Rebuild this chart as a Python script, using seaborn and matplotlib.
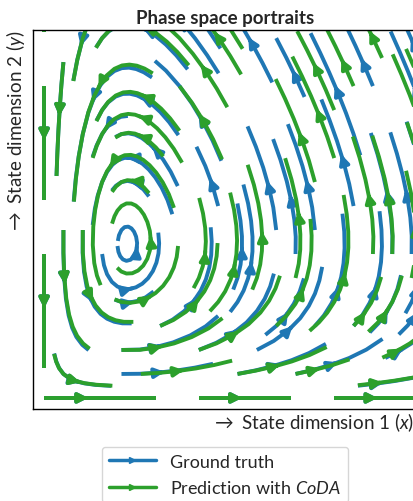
import numpy as np
import matplotlib
matplotlib.use("Agg")
import matplotlib.pyplot as plt
import seaborn as sns
from matplotlib.lines import Line2D

# Lotka-Volterra parameters (alpha, beta, gamma, delta)
true_params = [0.5, 0.52, 0.45, 0.5]
pred_params = [0.52, 0.53, 0.45, 0.49]

x_range = [0.0, 4.2]
y_range = [0.0, 3.0]
legend_labels = ["Ground truth", "Prediction with $\\mathit{CoDA}$"]
colors = ["#1f77b4", "#2ca02c"]


def lv_field(params, X, Y):
    a, b, g, d = params
    U = a * X - b * X * Y
    V = d * X * Y - g * Y
    return U, V


sns.set_theme(style="white")
plt.rcParams["font.family"] = ["Lato", "DejaVu Sans"]
plt.rcParams["mathtext.fontset"] = "custom"
plt.rcParams["mathtext.rm"] = "Lato"
plt.rcParams["mathtext.it"] = "Lato:italic"
plt.rcParams["mathtext.bf"] = "Lato:bold"

xs = np.linspace(x_range[0], x_range[1], 60)
ys = np.linspace(y_range[0], y_range[1], 60)
X, Y = np.meshgrid(xs, ys)

fig = plt.figure(figsize=(4.13, 5.02), dpi=100)
ax = fig.add_axes([0.08, 0.183, 0.93, 0.755])

for params, c in zip([true_params, pred_params], colors):
    U, V = lv_field(params, X, Y)
    ax.streamplot(X, Y, U, V, color=c, linewidth=2.8, arrowsize=1.4,
                  density=0.72, maxlength=0.55)

ax.set_xlim(-0.12, 4.05)
ax.set_ylim(-0.07, 2.3)
ax.set_xticks([])
ax.set_yticks([])
for s in ax.spines.values():
    s.set_color("black")
    s.set_linewidth(1.0)

ax.set_title("Phase space portraits", fontsize=13.5, fontweight="bold", pad=5)
ax.set_xlabel("$\\rightarrow$ State dimension 1 ($x$)", fontsize=13.5, loc="right", labelpad=1)
ax.xaxis.label.set_x(0.993)
ax.set_ylabel("$\\rightarrow$ State dimension 2 ($y$)", fontsize=13.5, loc="top", labelpad=4)

handles = [Line2D([0], [0], color=c, lw=2.5, marker=">", markersize=5) for c in colors]
ax.legend(handles, legend_labels, loc="upper center", bbox_to_anchor=(0.5, -0.075),
          fontsize=13, frameon=True, handlelength=2.6)

fig.savefig("out.png", dpi=100)
